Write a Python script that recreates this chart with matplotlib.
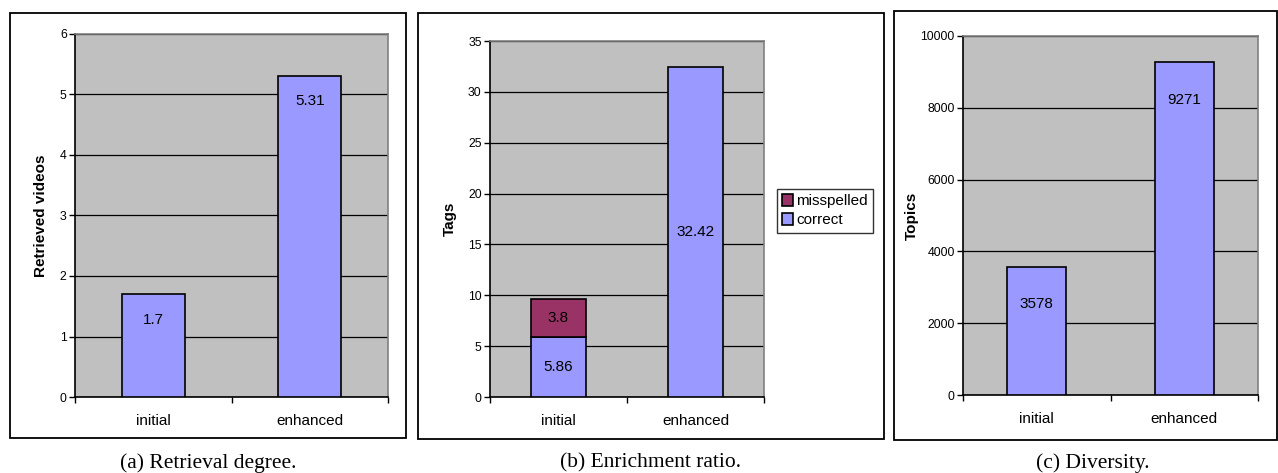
import matplotlib
matplotlib.use("Agg")
import matplotlib.pyplot as plt
from matplotlib.patches import Rectangle
import numpy as np

categories = ["initial", "enhanced"]
retrieved = [1.7, 5.31]
tags_correct = [5.86, 32.42]
tags_misspelled = [3.8, 0.0]
topics = [3578, 9271]

plt.rcParams['font.family'] = ['Liberation Sans', 'DejaVu Sans']

W, H = 1278, 473
fig = plt.figure(figsize=(W / 100, H / 100), dpi=100)

BAR = "#9999FF"
MIS = "#993366"
BG = "#C0C0C0"

def px_rect(x0, y0, x1, y1):
    return [x0 / W, 1 - y1 / H, (x1 - x0) / W, (y1 - y0) / H]

def frame(x0, y0, x1, y1):
    r = Rectangle((x0 / W, 1 - y1 / H), (x1 - x0) / W, (y1 - y0) / H,
                  transform=fig.transFigure, fill=False, edgecolor="black",
                  linewidth=1.3, zorder=0)
    fig.patches.append(r)

def style_ax(ax, ymax, step, ylabel):
    ax.set_facecolor(BG)
    ax.set_xlim(0, 2)
    ax.set_ylim(0, ymax)
    ax.set_yticks(np.arange(0, ymax + step / 2, step))
    ax.set_xticks([0, 1, 2])
    ax.set_xticklabels([])
    ax.set_xticks([0.5, 1.5], minor=True)
    ax.set_xticklabels(categories, minor=True, fontsize=11)
    ax.tick_params(axis="x", which="minor", length=0, pad=12)
    ax.tick_params(axis="x", which="major", length=4, direction="out", width=1)
    ax.tick_params(axis="y", length=4, direction="out", width=1, labelsize=8.8, pad=2)
    ax.yaxis.grid(True, color="black", linewidth=0.9)
    ax.set_axisbelow(True)
    for s in ["top", "right"]:
        ax.spines[s].set_color("#808080")
        ax.spines[s].set_linewidth(1.2)
    for s in ["left", "bottom"]:
        ax.spines[s].set_color("black")
        ax.spines[s].set_linewidth(1.2)
    ax.set_ylabel(ylabel, fontsize=11, fontweight="bold")

x = np.array([0.5, 1.5])

# (a)
frame(10, 13, 406, 438)
ax1 = fig.add_axes(px_rect(75, 34, 388, 397))
style_ax(ax1, 6, 1, "Retrieved videos")
ax1.yaxis.set_label_coords(-0.086, 0.5)
ax1.bar(x, retrieved, width=0.4, color=BAR, edgecolor="black", linewidth=1.2, zorder=3)
for xi, v in zip(x, retrieved):
    ax1.annotate(f"{v:g}", (xi, v), xytext=(0, -18.5), textcoords="offset points",
                 ha="center", va="center", fontsize=11, zorder=4)
fig.text(208 / W, 1 - 463 / H, "(a) Retrieval degree.", ha="center", va="center",
         family="Liberation Serif", fontsize=15.5)

# (b)
frame(418, 13, 884, 439)
ax2 = fig.add_axes(px_rect(490, 41, 764, 397))
style_ax(ax2, 35, 5, "Tags")
ax2.yaxis.set_label_coords(-0.12, 0.5)
bc = ax2.bar(x, tags_correct, width=0.4, color=BAR, edgecolor="black", linewidth=1.2,
             zorder=3, label="correct")
mis_x = [xi for xi, m in zip(x, tags_misspelled) if m > 0]
mis_v = [m for m in tags_misspelled if m > 0]
mis_b = [c for c, m in zip(tags_correct, tags_misspelled) if m > 0]
bm = ax2.bar(mis_x, mis_v, bottom=mis_b, width=0.4, color=MIS, edgecolor="black",
             linewidth=1.2, zorder=3, label="misspelled")
for xi, v in zip(x, tags_correct):
    ax2.text(xi, v / 2, f"{v:g}", ha="center", va="center", fontsize=11, zorder=4)
for xi, v, bt in zip(mis_x, mis_v, mis_b):
    ax2.text(xi, bt + v / 2, f"{v:g}", ha="center", va="center", fontsize=11, zorder=4)
leg = fig.legend([bm, bc], ["misspelled", "correct"], loc="upper left",
                 bbox_to_anchor=(777 / W, 1 - 189 / H), fontsize=11,
                 frameon=True, fancybox=False, edgecolor="black",
                 handlelength=0.7, handleheight=0.8, handletextpad=0.2,
                 borderpad=0.35, labelspacing=0.3, borderaxespad=0)
leg.get_frame().set_linewidth(1.0)
fig.text(651 / W, 1 - 463 / H, "(b) Enrichment ratio.", ha="center", va="center",
         family="Liberation Serif", fontsize=15.5)

# (c)
frame(894, 11, 1277, 440)
ax3 = fig.add_axes(px_rect(963, 36, 1258, 395))
style_ax(ax3, 10000, 2000, "Topics")
ax3.yaxis.set_label_coords(-0.149, 0.5)
ax3.bar(x, topics, width=0.4, color=BAR, edgecolor="black", linewidth=1.2, zorder=3)
for xi, v in zip(x, topics):
    ax3.annotate(f"{v:g}", (xi, v), xytext=(0, -27), textcoords="offset points",
                 ha="center", va="center", fontsize=11, zorder=4)
fig.text(1093 / W, 1 - 463 / H, "(c) Diversity.", ha="center", va="center",
         family="Liberation Serif", fontsize=15.5)

fig.savefig("out.png", dpi=100)
